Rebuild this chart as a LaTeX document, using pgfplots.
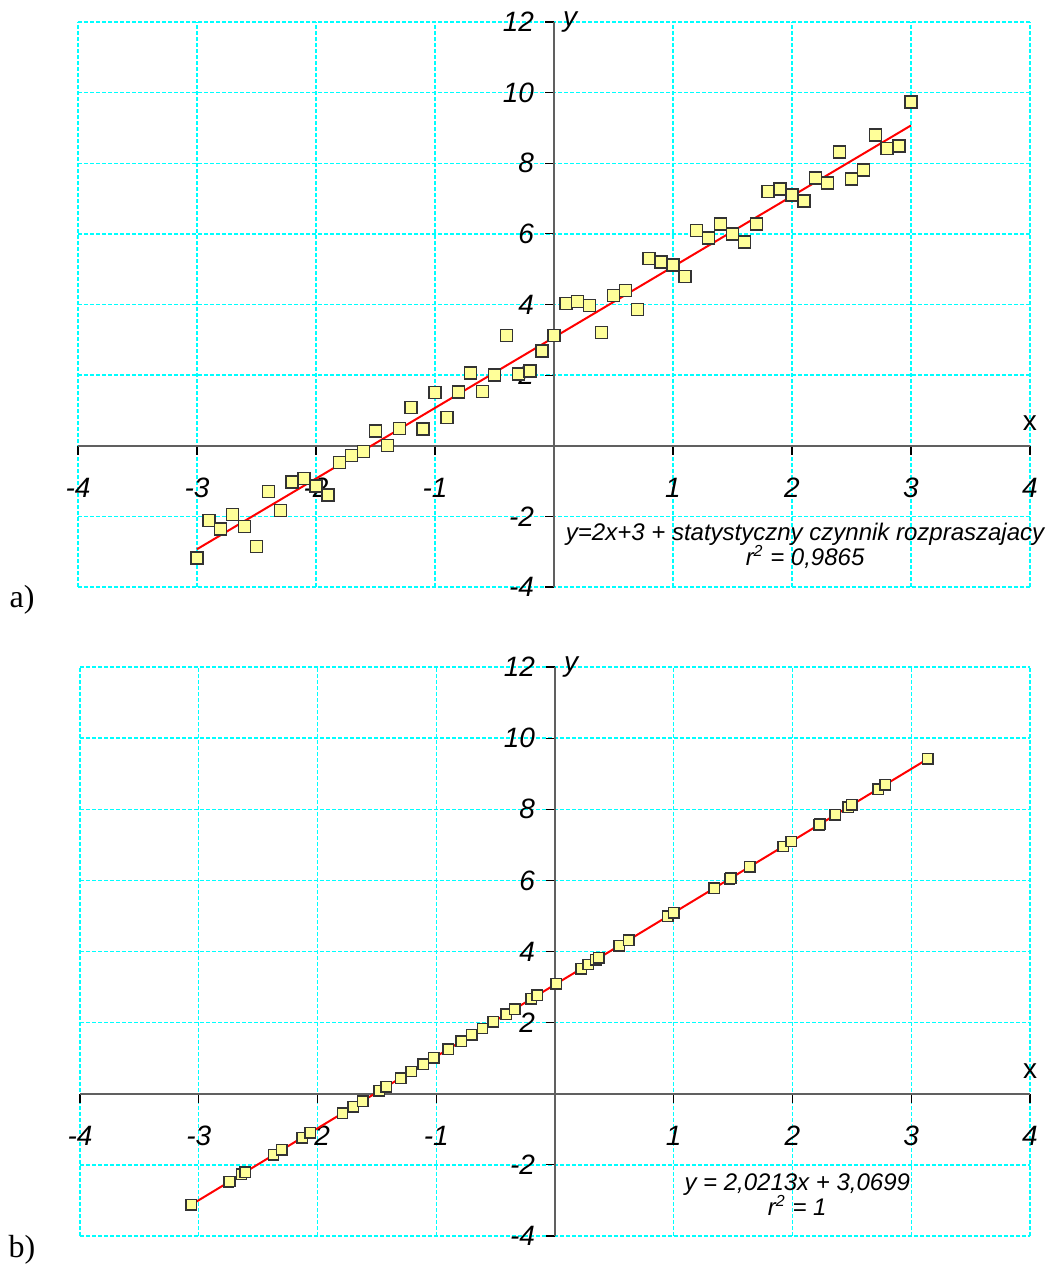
\documentclass[border=0pt]{standalone}
\usepackage{pgfplots}
\pgfplotsset{compat=1.18}
\usepackage{fontspec}
\setmainfont{Liberation Sans}
\newfontfamily\serifrm{Liberation Serif}
\definecolor{markfill}{HTML}{FFFF99}
\definecolor{axgray}{HTML}{606060}
\definecolor{gridcyan}{HTML}{00FFFF}

\pgfplotsset{
 myaxis/.style={
  axis lines=middle, scale only axis,
  xmin=-4,xmax=4,ymin=-4,ymax=12,
  xtick={-4,-3,-2,-1,0,1,2,3,4}, ytick={-4,-2,0,2,4,6,8,10,12},
  hide obscured x ticks=false, hide obscured y ticks=false,
  xticklabels={-4,-3,-2,-1,{},1,2,3,4},
  yticklabels={-4,-2,{},2,4,6,8,10,12},
  grid=major,
  major grid style={gridcyan, dash pattern=on 2pt off 1pt, line width=0.7pt},
  axis line style={axgray, line width=0.8pt, -},
  tick align=outside, major tick length=4.5pt,
  tick style={black, line width=0.6pt},
  ticklabel style={font=\itshape\fontsize{14}{16}\selectfont},
  xticklabel style={yshift=-8pt},
  yticklabel style={xshift=-2pt},
  xlabel={x}, ylabel={\itshape y},
  xlabel style={at={(axis description cs:1,0.25)}, anchor=south, yshift=4pt, font=\fontsize{14}{16}\selectfont},
  ylabel style={at={(axis description cs:0.5,1)}, anchor=west, rotate=0, xshift=1pt, font=\fontsize{14}{16}\selectfont},
  clip=false,
 },
 mymarks/.style={only marks, mark=square*, mark options={fill=markfill, draw=black!80, line width=0.7pt}},
 fitline/.style={red, line width=1pt, no marks},
}

\begin{document}
\begin{tikzpicture}
\useasboundingbox (0,0) rectangle (522.5pt,633.5pt);

% ---------- a) ----------
\begin{axis}[myaxis, at={(39pt,340pt)}, anchor=south west, width=476pt, height=282.5pt]
\addplot[mymarks, mark size=3pt] coordinates {
(-3.0,-3.18) (-2.9,-2.11) (-2.8,-2.36) (-2.7,-1.94) (-2.6,-2.29) (-2.5,-2.85)
(-2.4,-1.29) (-2.3,-1.83) (-2.2,-1.03) (-2.1,-0.93) (-2.0,-1.14) (-1.9,-1.39)
(-1.8,-0.48) (-1.7,-0.27) (-1.6,-0.16) (-1.5,0.42) (-1.4,0.0) (-1.3,0.49)
(-1.2,1.09) (-1.1,0.47) (-1.0,1.50) (-0.9,0.80) (-0.8,1.52) (-0.7,2.06)
(-0.6,1.53) (-0.5,2.00) (-0.4,3.13) (-0.3,2.03) (-0.2,2.12) (-0.1,2.68)
(0.0,3.13) (0.1,4.03) (0.2,4.09) (0.3,3.97) (0.4,3.20) (0.5,4.26)
(0.6,4.40) (0.7,3.86) (0.8,5.31) (0.9,5.20) (1.0,5.12) (1.1,4.80)
(1.2,6.10) (1.3,5.88) (1.4,6.28) (1.5,6.00) (1.6,5.77) (1.7,6.28)
(1.8,7.20) (1.9,7.27) (2.0,7.10) (2.1,6.93) (2.2,7.58) (2.3,7.44)
(2.4,8.32) (2.5,7.55) (2.6,7.81) (2.7,8.80) (2.8,8.41) (2.9,8.49)
(3.0,9.73)
};
\addplot[fitline] coordinates {(-3.0,-2.93) (3.0,9.07)};
\node[align=center, font=\itshape\fontsize{12}{12.5}\selectfont] at (axis cs:2.11,-2.83)
  {y=2x+3 + statystyczny czynnik rozpraszajacy\\ r\textsuperscript{2} = 0,9865};
\end{axis}

% ---------- b) ----------
\begin{axis}[myaxis, at={(40pt,15.5pt)}, anchor=south west, width=475pt, height=284.5pt]
\addplot[mymarks, mark size=2.6pt] coordinates {
(-3.065,-3.125) (-2.75,-2.489) (-2.74,-2.469) (-2.64,-2.266) (-2.61,-2.206)
(-2.37,-1.721) (-2.30,-1.579) (-2.13,-1.236) (-2.06,-1.094) (-1.79,-0.548)
(-1.70,-0.366) (-1.62,-0.205) (-1.48,0.078) (-1.42,0.200) (-1.30,0.442)
(-1.21,0.624) (-1.11,0.826) (-1.02,1.008) (-0.90,1.251) (-0.79,1.473)
(-0.70,1.655) (-0.61,1.837) (-0.52,2.019) (-0.41,2.241) (-0.34,2.383)
(-0.20,2.666) (-0.15,2.767) (0.01,3.090) (0.22,3.515) (0.28,3.636)
(0.345,3.767) (0.37,3.818) (0.54,4.161) (0.62,4.323) (0.95,4.990)
(1.00,5.091) (1.34,5.778) (1.47,6.041) (1.48,6.061) (1.64,6.385)
(1.92,6.951) (1.99,7.092) (2.22,7.557) (2.23,7.577) (2.36,7.840)
(2.47,8.063) (2.50,8.123) (2.72,8.568) (2.78,8.689) (3.14,9.417)
};
\addplot[fitline] coordinates {(-3.065,-3.125) (3.14,9.417)};
\node[align=center, font=\itshape\fontsize{12}{12.5}\selectfont] at (axis cs:2.04,-2.83)
  {y = 2,0213x + 3,0699\\ r\textsuperscript{2} = 1};
\end{axis}

\node[font=\serifrm\fontsize{16}{18}\selectfont] at (11pt,333.5pt) {a)};
\node[font=\serifrm\fontsize{16}{18}\selectfont] at (11pt,8.5pt) {b)};
\end{tikzpicture}
\end{document}
